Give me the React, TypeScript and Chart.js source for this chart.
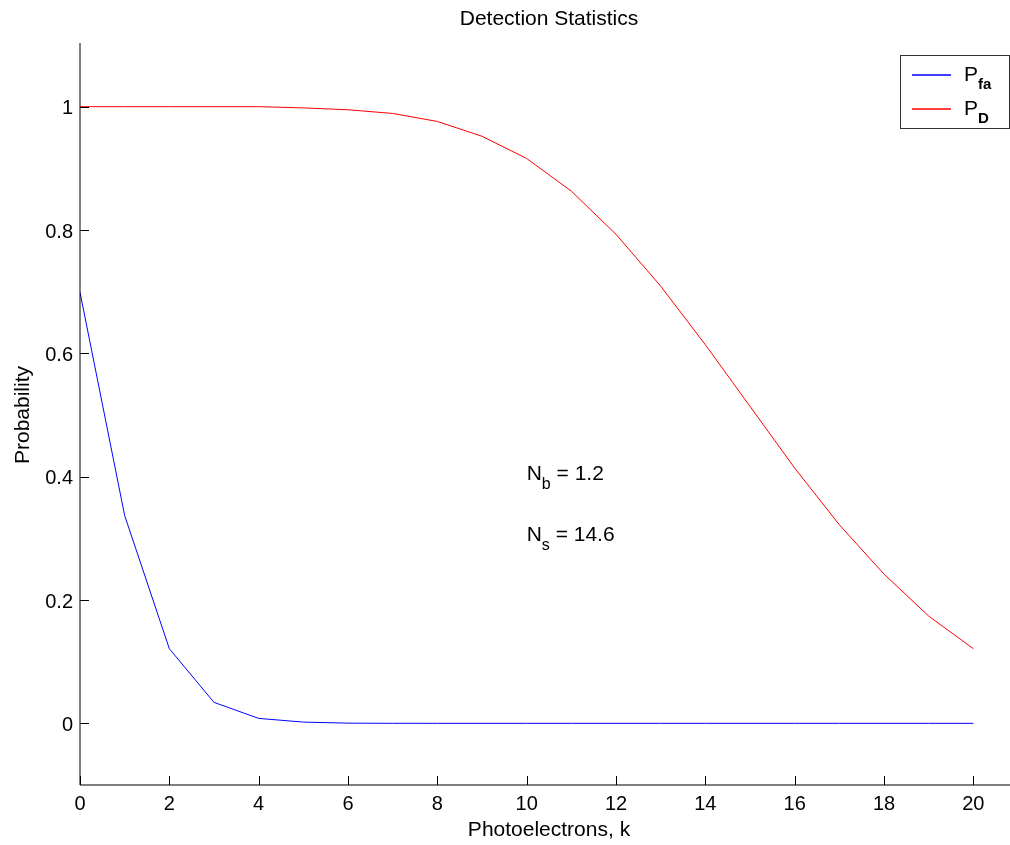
import React, { useEffect, useRef } from "react";
import { Chart, registerables } from "chart.js";

Chart.register(...registerables);

// ---- data ----
const photoelectrons = [0, 1, 2, 3, 4, 5, 6, 7, 8, 9, 10, 11, 12, 13, 14, 15, 16, 17, 18, 19, 20];
const pfaValues = [0.699, 0.337, 0.121, 0.034, 0.008, 0.002, 0.0003, 0.00004, 0, 0, 0, 0, 0, 0, 0, 0, 0, 0, 0, 0, 0];
const pdValues = [1.0, 1.0, 1.0, 1.0, 1.0, 0.998, 0.995, 0.989, 0.976, 0.952, 0.916, 0.863, 0.793, 0.709, 0.614, 0.514, 0.414, 0.322, 0.242, 0.174, 0.121];

const xTicks = [0, 2, 4, 6, 8, 10, 12, 14, 16, 18, 20];
const xTickLabels = ["0", "2", "4", "6", "8", "10", "12", "14", "16", "18", "20"];
const yTicks = [0, 0.2, 0.4, 0.6, 0.8, 1];
const yTickLabels = ["0", "0.2", "0.4", "0.6", "0.8", "1"];

const titleText = "Detection Statistics";
const xAxisLabel = "Photoelectrons, k";
const yAxisLabel = "Probability";

const seriesNames = ["P", "P"];
const seriesSubs = ["fa", "D"];
const seriesColors = ["#0000ff", "#ff0000"];

const noteX = [10, 10];
const noteY = [0.4, 0.3];
const noteMain = ["N", "N"];
const noteSub = ["b", "s"];
const noteRest = [" = 1.2", " = 14.6"];

const FONT = '"Liberation Sans", Arial, Helvetica, sans-serif';

const matlabPlugin = {
  id: "matlabDecor",
  afterDraw(chart: any) {
    const ctx = chart.ctx as CanvasRenderingContext2D;
    const area = chart.chartArea;
    const xs = chart.scales.x;
    const ys = chart.scales.y;
    ctx.save();

    // axes lines
    ctx.strokeStyle = "#000";
    ctx.lineWidth = 1;
    ctx.beginPath();
    ctx.moveTo(area.left, area.top - 2);
    ctx.lineTo(area.left, area.bottom);
    ctx.lineTo(area.right, area.bottom);
    ctx.stroke();

    // ticks (inward) + labels
    const tl = 9;
    ctx.fillStyle = "#000";
    ctx.font = `20px ${FONT}`;
    ctx.beginPath();
    xTicks.forEach((v) => {
      const px = Math.round(xs.getPixelForValue(v)) + 0.5;
      ctx.moveTo(px, area.bottom);
      ctx.lineTo(px, area.bottom - tl);
    });
    yTicks.forEach((v) => {
      const py = Math.round(ys.getPixelForValue(v)) + 0.5;
      ctx.moveTo(area.left, py);
      ctx.lineTo(area.left + tl, py);
    });
    ctx.stroke();

    ctx.textAlign = "center";
    ctx.textBaseline = "alphabetic";
    xTicks.forEach((v, i) => {
      ctx.fillText(xTickLabels[i], xs.getPixelForValue(v), area.bottom + 25);
    });
    ctx.textAlign = "right";
    yTicks.forEach((v, i) => {
      ctx.fillText(yTickLabels[i], area.left - 7, ys.getPixelForValue(v) + 7.5);
    });

    // title and axis labels
    const cx = (area.left + area.right) / 2;
    const cy = (area.top + area.bottom) / 2;
    ctx.font = `21px ${FONT}`;
    ctx.textAlign = "center";
    ctx.fillText(titleText, cx, area.top - 20);
    ctx.fillText(xAxisLabel, cx, area.bottom + 51);
    ctx.save();
    ctx.translate(area.left - 51, cy);
    ctx.rotate(-Math.PI / 2);
    ctx.fillText(yAxisLabel, 0, 0);
    ctx.restore();

    // annotations
    ctx.textAlign = "left";
    noteX.forEach((v, i) => {
      let px = xs.getPixelForValue(v);
      const py = ys.getPixelForValue(noteY[i]) + 3;
      ctx.font = `21px ${FONT}`;
      ctx.fillText(noteMain[i], px, py);
      px += ctx.measureText(noteMain[i]).width;
      ctx.font = `16px ${FONT}`;
      ctx.fillText(noteSub[i], px, py + 9);
      px += ctx.measureText(noteSub[i]).width;
      ctx.font = `21px ${FONT}`;
      ctx.fillText(noteRest[i], px, py);
    });

    // legend
    const bw = 109;
    const bh = 73;
    const bx = area.right - 9 - bw;
    const by = area.top + 10;
    ctx.fillStyle = "#fff";
    ctx.fillRect(bx, by, bw, bh);
    ctx.strokeStyle = "#333";
    ctx.strokeRect(bx + 0.5, by + 0.5, bw, bh);
    seriesNames.forEach((name, i) => {
      const ly = by + 20 + i * 34;
      ctx.strokeStyle = seriesColors[i];
      ctx.lineWidth = 1.4;
      ctx.beginPath();
      ctx.moveTo(bx + 12, ly);
      ctx.lineTo(bx + 51, ly);
      ctx.stroke();
      ctx.fillStyle = "#000";
      ctx.font = `21px ${FONT}`;
      ctx.fillText(name, bx + 64, ly + 6);
      const w = ctx.measureText(name).width;
      ctx.font = `bold 15px ${FONT}`;
      ctx.fillText(seriesSubs[i], bx + 64 + w, ly + 14);
    });

    ctx.restore();
  },
};

export default function App() {
  const canvasRef = useRef<HTMLCanvasElement | null>(null);

  useEffect(() => {
    if (!canvasRef.current) return;
    const chart = new Chart(canvasRef.current, {
      type: "line",
      data: {
        datasets: [
          {
            label: "Pfa",
            data: photoelectrons.map((k, i) => ({ x: k, y: pfaValues[i] })),
            borderColor: seriesColors[0],
            borderWidth: 1,
            pointRadius: 0,
            tension: 0,
            fill: false,
          },
          {
            label: "PD",
            data: photoelectrons.map((k, i) => ({ x: k, y: pdValues[i] })),
            borderColor: seriesColors[1],
            borderWidth: 1,
            pointRadius: 0,
            tension: 0,
            fill: false,
          },
        ],
      },
      options: {
        responsive: false,
        animation: false,
        devicePixelRatio: 1,
        layout: { padding: { left: 80, top: 45, right: 2, bottom: 60 } },
        plugins: { legend: { display: false }, tooltip: { enabled: false }, title: { display: false } },
        scales: {
          x: { type: "linear", min: 0, max: 21, display: false },
          y: { type: "linear", min: -0.1, max: 1.1, display: false },
        },
      },
      plugins: [matlabPlugin],
    });
    return () => chart.destroy();
  }, []);

  return (
    <div style={{ position: "absolute", left: 0, top: 0, width: 1010, height: 845, overflow: "hidden", background: "#fff" }}>
      <canvas ref={canvasRef} width={1020} height={845} style={{ display: "block" }} />
    </div>
  );
}
